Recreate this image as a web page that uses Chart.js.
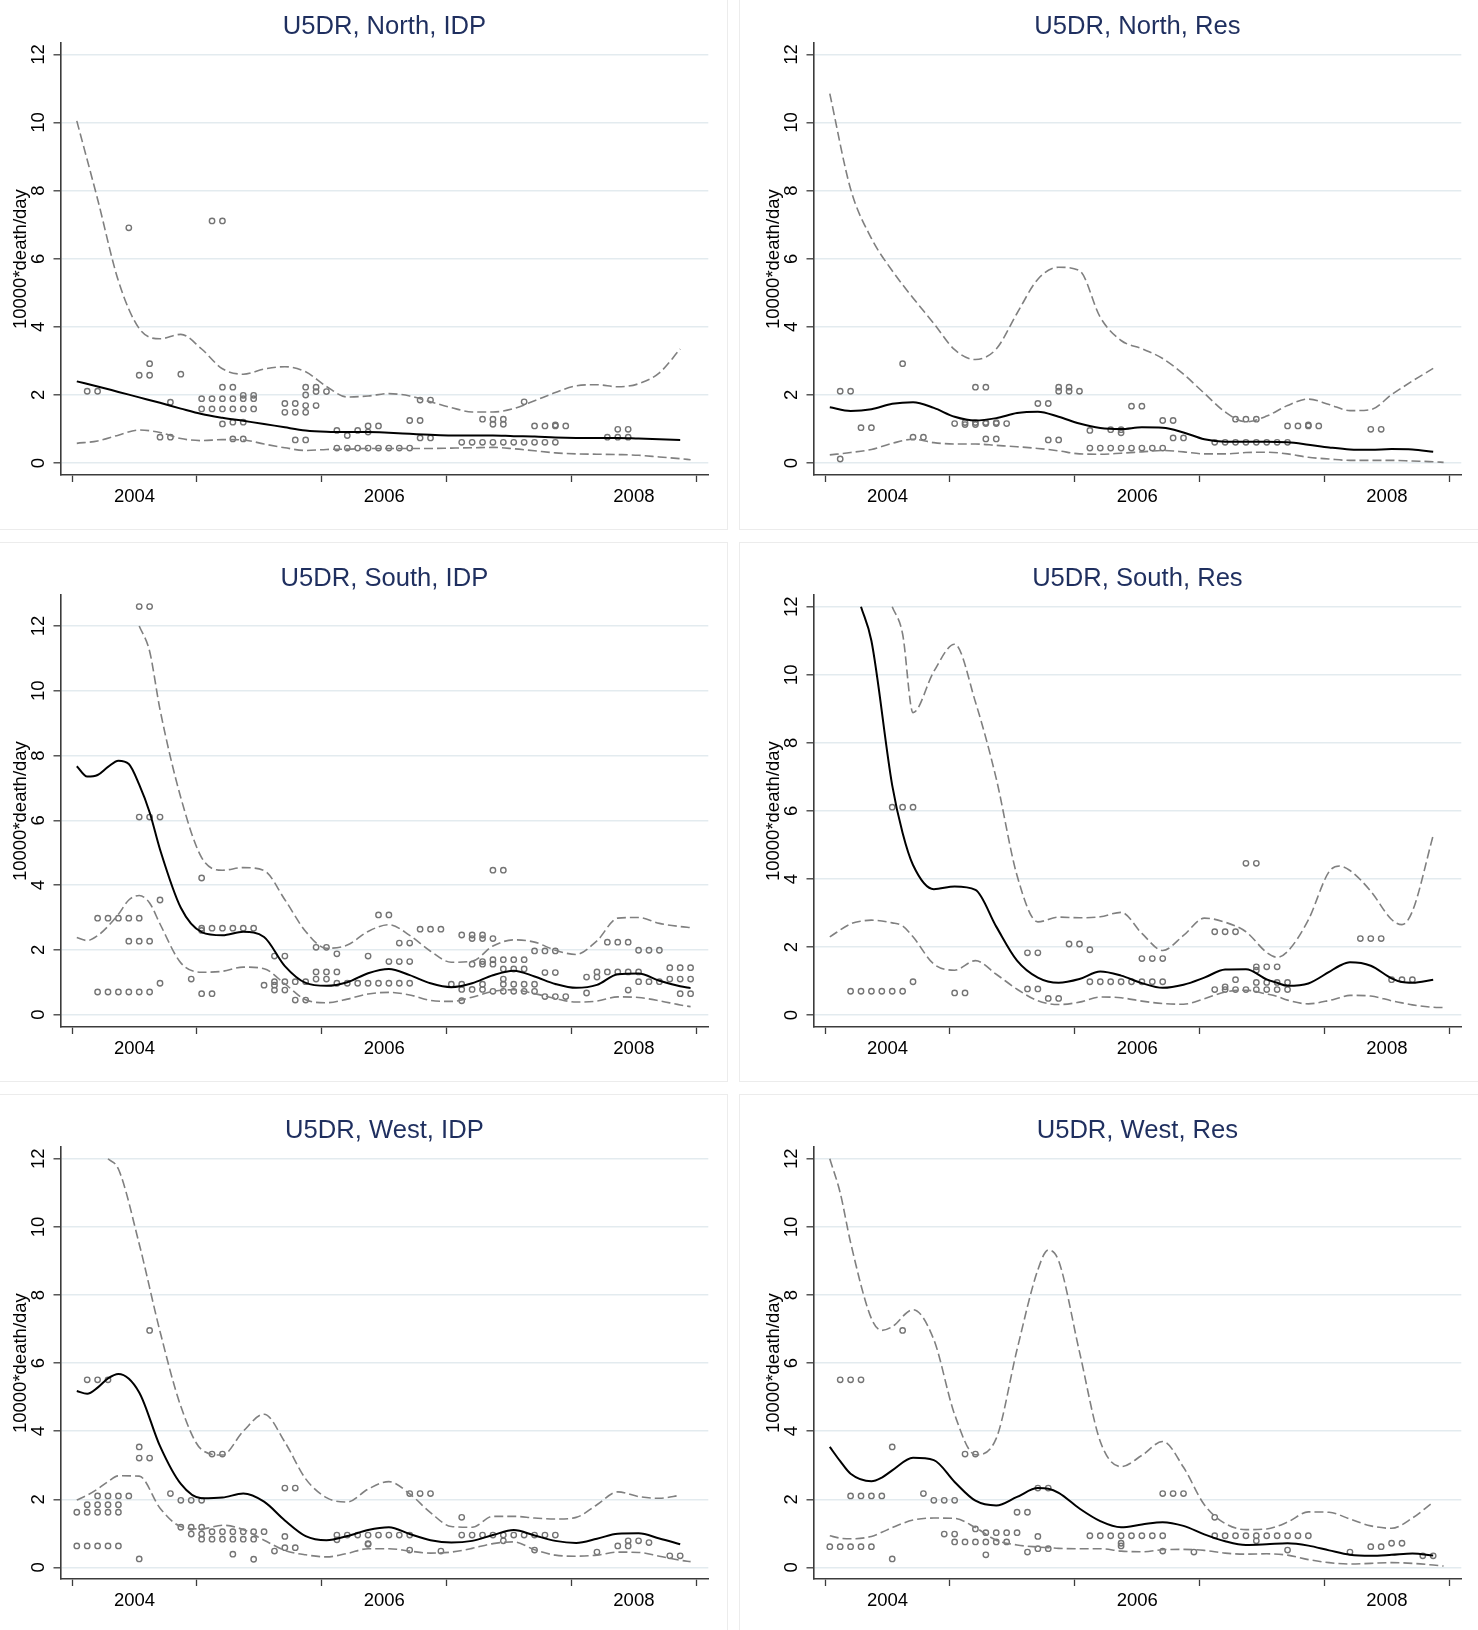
<!DOCTYPE html>
<html lang="en">
<head>
<meta charset="UTF-8" />
<title>U5DR by region and population</title>
<script src="https://cdn.jsdelivr.net/npm/chart.js@4.4.1/dist/chart.umd.min.js"></script>
<style>
    body { margin: 0; background: #fff; }
    #grid { position: relative; width: 1478px; height: 1630px; overflow: hidden; }
    .panel { position: absolute; width: 740px; height: 538px; outline: 1px solid #ececec; }
    .panel canvas { position: absolute; left: 0; top: 0; }
</style>
</head>
<body>
<div id="grid">
    <div class="panel" style="left:-13px; top:-9px"><canvas id="northIdp" width="740" height="538"></canvas></div>
    <div class="panel" style="left:740px; top:-9px"><canvas id="northRes" width="740" height="538"></canvas></div>
    <div class="panel" style="left:-13px; top:543px"><canvas id="southIdp" width="740" height="538"></canvas></div>
    <div class="panel" style="left:740px; top:543px"><canvas id="southRes" width="740" height="538"></canvas></div>
    <div class="panel" style="left:-13px; top:1095px"><canvas id="westIdp" width="740" height="538"></canvas></div>
    <div class="panel" style="left:740px; top:1095px"><canvas id="westRes" width="740" height="538"></canvas></div>
</div>

<script>
// Months are counted from January 2004 (0 = Jan 2004).
// Observed rates: one month entry may hold several survey values.

// ---- North, IDP ----
const northIdpMonths = [1,2,5,6,7,8,9,10,12,13,14,15,16,17,20,21,22,23,24,25,26,27,28,29,30,31,32,33,34,37,38,39,40,41,42,43,44,45,46,47,51,52,53];
const northIdpRates = [[2.11],[2.11],[6.91],[2.58],[2.58,2.92],[0.76],[0.76,1.79],[2.61],
    [1.89,1.59],[1.89,1.59,7.11],[1.89,1.59,2.23,7.11,1.15],[1.89,1.59,2.23,1.2,0.71],[1.89,1.59,1.99,1.2,0.71],[1.89,1.59,1.99],
    [1.75,1.49],[1.75,1.49,0.68],[2.23,2.0,1.69,1.49,0.68],[2.23,2.1,1.69],[2.1],
    [0.96,0.44],[0.81,0.44],[0.96,0.44],[1.09,0.91,0.44],[1.09,0.44],[0.44],[0.44],[1.25,0.44],[1.25,1.85,0.74],[1.85,0.74],
    [0.61],[0.61],[1.29,0.61],[1.29,1.14,0.61],[1.29,1.14,0.61],[0.61],[1.8,0.61],[1.09,0.61],[1.09,0.61],[1.09,1.12,0.61],[1.09],
    [0.76],[0.76,0.99],[0.76,0.99]];
const northIdpLineMonths = [0,2,4,6,8,10,12,14,16,18,20,22,24,26,28,30,32,34,36,38,40,42,44,46,48,50,52,54,56,58,59];
const northIdpFit   = [2.40,2.25,2.09,1.93,1.77,1.60,1.44,1.33,1.24,1.15,1.05,0.96,0.92,0.91,0.91,0.89,0.86,0.83,0.81,0.81,0.81,0.79,0.78,0.75,0.74,0.74,0.74,0.72,0.70,0.68,null];
const northIdpUpper = [10.05,7.75,5.35,3.95,3.65,3.78,3.35,2.77,2.61,2.76,2.83,2.68,2.25,1.94,1.97,2.04,1.97,1.80,1.63,1.50,1.50,1.60,1.83,2.07,2.27,2.30,2.24,2.33,2.65,3.35,null];
const northIdpLower = [0.58,0.65,0.82,0.97,0.90,0.72,0.66,0.69,0.68,0.56,0.45,0.37,0.40,0.41,0.43,0.43,0.43,0.43,0.44,0.45,0.46,0.42,0.36,0.30,0.27,0.26,0.25,0.23,0.18,0.13,0.10];

// ---- North, Res ----
const northResMonths = [1,2,3,4,7,8,9,12,13,14,15,16,17,20,21,22,23,24,25,26,27,28,29,30,31,32,33,34,37,38,39,40,41,42,43,44,45,46,47,52,53];
const northResRates = [[0.12,2.11],[2.11],[1.04],[1.04],[2.92],[0.76],[0.76],
    [1.16],[1.13,1.19],[1.13,1.19,2.23],[1.16,1.19,2.23,0.71],[1.16,1.19,0.71],[1.16],
    [1.75],[1.75,0.68],[2.23,2.11,0.68],[2.23,2.11],[2.11],[0.96,0.44],[0.44],[0.98,0.44],[0.98,0.89,0.44],[1.67,0.44],[1.67,0.44],[0.44],[1.25,0.44],[1.25,0.74],[0.74],
    [0.61],[0.61],[1.29,0.61],[1.29,0.61],[1.29,0.61],[0.61],[0.61],[1.09,0.61],[1.09],[1.09,1.12],[1.09],
    [0.99],[0.99]];
const northResLineMonths = [0,2,4,6,8,10,12,14,16,18,20,22,24,26,28,30,32,34,36,38,40,42,44,46,48,50,52,54,56,58,59];
const northResFit   = [1.64,1.53,1.58,1.74,1.79,1.62,1.36,1.25,1.32,1.47,1.51,1.36,1.16,1.03,1.00,1.05,1.04,0.90,0.70,0.63,0.63,0.63,0.61,0.54,0.46,0.40,0.39,0.41,0.40,0.33,null];
const northResUpper = [10.85,8.05,6.60,5.65,4.85,4.10,3.33,3.04,3.35,4.40,5.40,5.75,5.65,4.28,3.60,3.36,3.07,2.61,2.05,1.50,1.21,1.38,1.69,1.88,1.72,1.54,1.57,2.01,2.41,2.78,null];
const northResLower = [0.24,0.31,0.40,0.58,0.70,0.60,0.56,0.56,0.52,0.48,0.43,0.36,0.27,0.26,0.29,0.33,0.37,0.33,0.27,0.27,0.31,0.32,0.27,0.17,0.12,0.08,0.08,0.08,0.06,0.04,0.02];

// ---- South, IDP ----
const southIdpMonths = [2,3,4,5,6,7,8,11,12,13,14,15,16,17,18,19,20,21,22,23,24,25,26,27,28,29,30,31,32,33,34,35,36,37,38,39,40,41,42,43,44,45,46,47,49,50,51,52,53,54,55,56,57,58,59];
const southIdpRates = [
    [2.98,0.70],[2.98,0.70],[2.98,0.70],[2.98,2.27,0.70],[12.6,2.98,2.27,0.70,6.10],[12.6,2.27,0.70,6.10],[6.10,3.54,0.97],
    [1.10],[4.22,2.67,2.60,0.65],[2.67,0.65],[2.67],[2.67],[2.67],[2.67],
    [0.91],[1.81,1.02,0.91,0.76],[1.81,1.02,0.76],[1.02,0.45],[1.02,0.45],[2.08,1.32,1.10],[2.08,1.32,1.10],[1.32,1.88,0.97],
    [0.97],[0.97],[1.81,0.97],[3.08,0.97],[3.08,1.64,0.97],[1.64,2.21,0.97],[1.64,2.21,0.97],[2.64],[2.64],[2.64],
    [0.94],[0.94,2.46,0.78,0.43],[2.46,2.35,1.56,0.78],[2.46,2.35,1.56,1.64,0.78,0.94],[2.35,1.56,1.70,0.72,4.46],
    [1.70,1.41,1.10,0.94,0.72,4.46],[1.70,1.41,0.94,0.72],[1.70,1.41,0.94,0.72],[1.97,0.94,0.72],[1.97,1.30,0.56],[1.97,1.30,0.56],[0.56],
    [1.16,0.67],[1.32,1.16],[2.24,1.32],[2.24,1.32],[2.24,1.32,0.76],[1.32,1.99,1.02],[1.99,1.02],[1.99,1.02],
    [1.45,1.10],[1.45,1.10,0.65],[1.45,1.10,0.65]];
const southIdpLineMonths = [0,1,2,3,4,5,6,7,8,10,12,14,16,18,20,22,24,26,28,30,32,34,36,38,40,42,44,46,48,50,52,54,56,58,59];
const southIdpFit   = [7.67,7.35,7.40,7.65,7.84,7.74,7.10,6.25,5.10,3.30,2.55,2.45,2.56,2.40,1.50,0.98,0.89,1.00,1.28,1.41,1.22,0.97,0.85,0.97,1.22,1.36,1.18,0.95,0.83,0.92,1.25,1.27,1.05,0.88,0.82];
const southIdpUpper = [null,null,null,null,null,null,12.0,11.22,9.42,6.70,4.85,4.46,4.54,4.45,3.55,2.57,2.05,2.15,2.57,2.78,2.45,1.96,1.62,1.65,2.12,2.31,2.24,1.99,1.86,2.28,2.98,3.00,2.82,2.72,2.69];
const southIdpLower = [2.38,2.29,2.44,2.73,3.10,3.54,3.68,3.45,2.80,1.60,1.31,1.34,1.47,1.42,0.95,0.46,0.37,0.48,0.64,0.69,0.61,0.44,0.41,0.54,0.72,0.77,0.65,0.50,0.39,0.42,0.55,0.53,0.43,0.30,0.25];

// ---- South, Res ----
const southResMonths = [2,3,4,5,6,7,8,12,13,19,20,21,22,23,24,25,26,27,28,29,30,31,32,37,38,39,40,41,42,43,44,51,52,53,54,55,56];
const southResRates = [[0.70],[0.70],[0.70],[0.70],[0.70,6.11],[0.70,6.11],[0.98,6.11],
    [0.65],[0.65],
    [1.83,0.77],[1.83,0.77],[0.49],[0.49],[2.09],[2.09],[1.92,0.98],[0.98],[0.98],[0.98],[0.98],[0.98,1.66],[0.98,1.66],[0.98,1.66],
    [2.45,0.75],[2.45,0.75,0.83],[2.45,0.75,1.04],[4.46,0.75],[4.46,1.42,1.32,0.96,0.75],[1.42,0.96,0.75],[1.42,0.96,0.75],[0.96,0.75],
    [2.25],[2.25],[2.25],[1.04],[1.04],[1.04]];
const southResLineMonths = [0,2,3,4,6,7,8,10,12,14,16,18,20,22,24,26,28,30,32,34,36,38,40,42,43,44,46,48,49,50,52,54,55,56,58,59];
const southResFit   = [null,null,12.0,11.0,6.75,5.35,4.41,3.70,3.78,3.68,2.60,1.60,1.10,0.95,1.06,1.28,1.16,0.94,0.80,0.89,1.10,1.34,1.35,1.05,0.95,0.86,0.93,1.27,1.45,1.55,1.45,1.08,0.97,0.95,1.04,null];
const southResUpper = [null,null,null,null,12.0,11.2,8.89,10.1,10.9,9.20,6.95,4.10,2.74,2.88,2.86,2.89,3.02,2.40,1.90,2.34,2.85,2.73,2.45,1.84,1.70,1.87,2.80,4.22,4.38,4.25,3.64,2.81,2.66,3.05,5.28,null];
const southResLower = [2.30,2.68,2.76,2.79,2.71,2.62,2.30,1.50,1.32,1.60,1.20,0.76,0.42,0.31,0.38,0.53,0.51,0.41,0.34,0.32,0.48,0.68,0.73,0.62,0.55,0.44,0.33,0.43,0.51,0.58,0.56,0.42,0.36,0.30,0.23,0.22];

// ---- West, IDP ----
const westIdpMonths = [0,1,2,3,4,5,6,7,9,10,11,12,13,14,15,16,17,18,19,20,21,25,26,27,28,29,30,31,32,33,34,35,37,38,39,40,41,42,43,44,45,46,50,52,53,54,55,57,58];
const westIdpRates = [[1.62,0.63],[1.62,0.63,1.84,5.51],[1.62,0.63,1.84,2.10,5.51],[1.62,0.63,1.84,2.10,5.51],[1.62,0.63,1.84,2.10],[2.10],
    [0.25,3.54,3.21],[6.96,3.21],
    [2.17],[1.97,1.18],[1.97,1.18,0.98],[1.97,1.18,0.98,0.83],[0.83,1.05,3.33],[0.83,1.05,3.33],[0.83,1.05,0.39],[0.83,1.05],[0.83,1.05,0.24],[1.05],[0.48],[0.91,2.33,0.58],[2.33,0.58],
    [0.81,0.95],[0.95],[0.95],[0.95,0.70,0.68],[0.95],[0.95],[0.95],[0.95,2.17,0.51],[2.17],[2.17],[0.48],
    [1.47,0.95],[0.95],[0.95],[0.95],[0.95,0.78],[0.95],[0.95],[0.95,0.51],[0.95],[0.95],
    [0.45],[0.63],[0.63,0.78],[0.78],[0.73],[0.34],[0.34]];
const westIdpLineMonths = [0,1,2,3,4,6,8,10,12,14,16,18,20,22,24,26,28,30,32,34,36,38,40,42,44,46,48,50,52,54,56,58,59];
const westIdpFit   = [5.18,5.10,5.28,5.55,5.68,5.14,3.56,2.45,2.03,2.05,2.17,1.93,1.38,0.92,0.80,0.92,1.10,1.18,0.98,0.80,0.73,0.78,0.95,1.10,0.94,0.78,0.72,0.84,0.99,1.00,0.85,0.68,null];
const westIdpUpper = [null,null,null,12.0,11.7,9.50,6.93,4.73,3.46,3.30,4.00,4.50,3.68,2.60,2.05,1.92,2.30,2.52,2.16,1.61,1.20,1.18,1.50,1.50,1.45,1.42,1.47,1.84,2.22,2.08,2.03,2.12,null];
const westIdpLower = [1.98,2.12,2.30,2.52,2.69,2.68,1.74,1.20,1.13,1.24,1.11,0.80,0.50,0.37,0.31,0.41,0.55,0.55,0.48,0.42,0.45,0.56,0.70,0.75,0.52,0.36,0.33,0.36,0.45,0.44,0.33,0.21,0.17];

// ---- West, Res ----
const westResMonths = [0,1,2,3,4,5,6,7,9,10,11,12,13,14,15,16,17,18,19,20,21,25,26,27,28,29,30,31,32,33,34,35,37,38,39,40,41,42,43,44,45,46,50,52,53,54,55,57,58];
const westResRates = [[0.61],[0.61,5.51],[0.61,5.51,2.10],[0.61,5.51,2.10],[0.61,2.10],[2.10],
    [0.25,3.54],[6.96],
    [2.17],[1.97],[1.97,0.98],[1.97,0.98,0.75],[0.75,3.33],[0.75,3.33,1.13],[0.75,1.02,0.37],[0.75,1.02],[0.75,1.02],[1.02,1.62],[1.62,0.45],[0.91,2.33,0.55],[2.33,0.55],
    [0.93],[0.93],[0.93],[0.93,0.71,0.63],[0.93],[0.93],[0.93],[0.93,2.17,0.48],[2.17],[2.17],[0.45],
    [1.47,0.93],[0.93],[0.93],[0.93],[0.93,0.78],[0.93],[0.93],[0.93,0.51],[0.93],[0.93],
    [0.45],[0.61],[0.61],[0.71],[0.71],[0.34],[0.34]];
const westResLineMonths = [0,1,2,4,5,6,8,10,12,14,16,18,20,21,22,24,26,28,30,32,34,36,38,40,42,44,46,48,50,52,54,56,58,59];
const westResFit   = [3.54,3.12,2.75,2.53,2.64,2.85,3.22,3.15,2.51,1.96,1.82,2.07,2.33,2.31,2.19,1.73,1.36,1.18,1.26,1.33,1.22,0.97,0.77,0.66,0.68,0.71,0.64,0.50,0.37,0.34,0.37,0.41,0.35,null];
const westResUpper = [12.0,11.0,9.54,7.31,6.96,7.07,7.57,6.69,4.49,3.31,3.79,6.40,8.74,9.32,9.00,6.33,3.70,2.96,3.29,3.70,2.94,1.84,1.29,1.11,1.13,1.33,1.63,1.62,1.42,1.22,1.15,1.45,1.92,null];
const westResLower = [0.93,0.86,0.84,0.91,1.03,1.17,1.39,1.45,1.44,1.17,0.80,0.66,0.60,0.58,0.56,0.55,0.55,0.48,0.46,0.52,0.53,0.50,0.42,0.39,0.40,0.36,0.23,0.14,0.10,0.12,0.14,0.12,0.07,0.04];

// Axis ticks: marks at each new year, labels centred on the year
const xTicks = [2004, 2004.5, 2005, 2006, 2006.5, 2007, 2008, 2008.5, 2009];
const yTicks = [0, 2, 4, 6, 8, 10, 12];

const FONT = '"Liberation Sans", Arial, Helvetica, sans-serif';
const AXIS = '#3c3c3c';
const GRID = '#e3ebef';
const GRAY = '#808080';
const DOT = '#747474';
const TITLE_COLOR = '#1f2f5f';

// observations are dated the 15th of each month
const toYear = m => 2004 + (m + 0.45) / 12;

function drawPanel(id, title, months, rates, lineMonths, fit, upper, lower, yMin, yMax) {
    const points = [];
    months.forEach((m, i) => rates[i].forEach(v => points.push({ x: toYear(m), y: v })));
    const series = vals => lineMonths.map((m, i) => ({ x: toYear(m), y: vals[i] }));

    const curve = {
        pointRadius: 0,
        pointHitRadius: 0,
        fill: false,
        spanGaps: false,
        cubicInterpolationMode: 'monotone'
    };

    new Chart(document.getElementById(id), {
        type: 'line',
        data: {
            datasets: [
                { ...curve, data: series(fit), borderColor: '#000', borderWidth: 2, order: 1 },
                { ...curve, data: series(upper), borderColor: GRAY, borderWidth: 1.6, borderDash: [9, 4], order: 2 },
                { ...curve, data: series(lower), borderColor: GRAY, borderWidth: 1.6, borderDash: [9, 4], order: 3 },
                {
                    type: 'scatter',
                    data: points,
                    showLine: false,
                    pointRadius: 2.7,
                    pointBorderWidth: 1.4,
                    pointBorderColor: DOT,
                    pointBackgroundColor: 'rgba(0,0,0,0)',
                    order: 4
                }
            ]
        },
        options: {
            responsive: false,
            animation: false,
            events: [],
            layout: { padding: { left: 0, right: 18.7, top: 0, bottom: 0 } },
            plugins: {
                legend: { display: false },
                tooltip: { enabled: false },
                title: {
                    display: true,
                    text: title,
                    fullSize: false,
                    color: TITLE_COLOR,
                    font: { family: FONT, size: 25.6, weight: 'normal', lineHeight: 1.2 },
                    padding: { top: 20.6, bottom: 0.9 }
                }
            },
            scales: {
                x: {
                    type: 'linear',
                    min: 2003.907,
                    max: 2009.096,
                    afterBuildTicks: s => { s.ticks = xTicks.map(v => ({ value: v })); },
                    afterFit: s => { s.height = 54; s.paddingLeft = 0; s.paddingRight = 0; },
                    ticks: {
                        autoSkip: false,
                        maxRotation: 0,
                        padding: 4,
                        color: '#000',
                        font: { family: FONT, size: 18.5 },
                        callback: v => (v % 1 ? String(Math.floor(v)) : '')
                    },
                    grid: {
                        drawOnChartArea: false,
                        tickLength: 7,
                        tickWidth: 1.3,
                        tickColor: c => (c.tick && c.tick.value % 1 ? 'rgba(0,0,0,0)' : AXIS)
                    },
                    border: { color: AXIS, width: 1.6 }
                },
                y: {
                    min: yMin,
                    max: yMax,
                    afterBuildTicks: s => { s.ticks = yTicks.map(v => ({ value: v })); },
                    afterFit: s => { s.width = 73.5; s.paddingTop = 0; s.paddingBottom = 0; },
                    ticks: {
                        autoSkip: false,
                        minRotation: 90,
                        maxRotation: 90,
                        crossAlign: 'center',
                        padding: 4,
                        color: '#000',
                        font: { family: FONT, size: 18.5 }
                    },
                    grid: { color: GRID, lineWidth: 1.6, tickLength: 7, tickWidth: 1.3, tickColor: AXIS },
                    border: { color: AXIS, width: 1.6 },
                    title: {
                        display: true,
                        text: '10000*death/day',
                        color: '#000',
                        font: { family: FONT, size: 18.5 },
                        padding: { top: 22.8, bottom: 0 }
                    }
                }
            }
        }
    });
}

drawPanel('northIdp', 'U5DR, North, IDP', northIdpMonths, northIdpRates, northIdpLineMonths, northIdpFit, northIdpUpper, northIdpLower, -0.35, 12.33);
drawPanel('northRes', 'U5DR, North, Res', northResMonths, northResRates, northResLineMonths, northResFit, northResUpper, northResLower, -0.35, 12.33);
drawPanel('southIdp', 'U5DR, South, IDP', southIdpMonths, southIdpRates, southIdpLineMonths, southIdpFit, southIdpUpper, southIdpLower, -0.38, 12.95);
drawPanel('southRes', 'U5DR, South, Res', southResMonths, southResRates, southResLineMonths, southResFit, southResUpper, southResLower, -0.35, 12.34);
drawPanel('westIdp', 'U5DR, West, IDP', westIdpMonths, westIdpRates, westIdpLineMonths, westIdpFit, westIdpUpper, westIdpLower, -0.34, 12.34);
drawPanel('westRes', 'U5DR, West, Res', westResMonths, westResRates, westResLineMonths, westResFit, westResUpper, westResLower, -0.34, 12.34);
</script>
</body>
</html>
